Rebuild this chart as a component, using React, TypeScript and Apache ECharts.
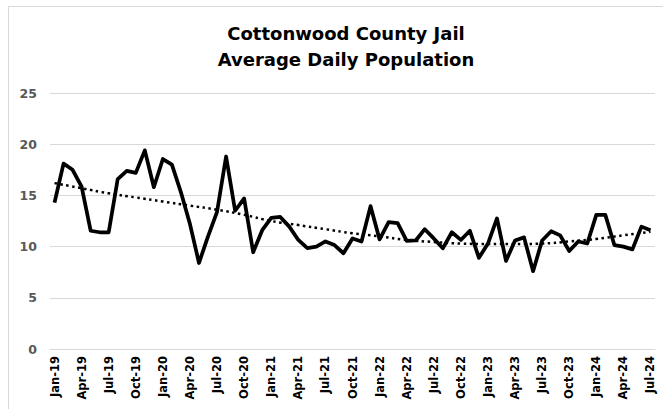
import React, { useEffect, useRef } from "react";
import * as echarts from "echarts";

const months = ["Jan", "Feb", "Mar", "Apr", "May", "Jun", "Jul", "Aug", "Sep", "Oct", "Nov", "Dec"];
const years = ["19", "20", "21", "22", "23", "24"];
const categories: string[] = [];
years.forEach((y) => months.forEach((m) => categories.push(`${m}-${y}`)));
categories.splice(67);

const population = [
  14.3, 18.1, 17.5, 15.85, 11.55, 11.4, 11.4, 16.6, 17.4, 17.2, 19.4, 15.8,
  18.55, 18.0, 15.3, 12.2, 8.4, 11.0, 13.4, 18.8, 13.5, 14.7, 9.45, 11.6,
  12.8, 12.9, 11.95, 10.65, 9.85, 10.0, 10.5, 10.15, 9.35, 10.8, 10.5, 13.95,
  10.7, 12.4, 12.3, 10.55, 10.6, 11.7, 10.8, 9.83, 11.4, 10.65, 11.55, 8.9,
  10.3, 12.75, 8.6, 10.6, 10.9, 7.6, 10.6, 11.5, 11.1, 9.57, 10.5, 10.3,
  13.1, 13.1, 10.15, 10.0, 9.73, 11.95, 11.6,
];

// trendline values at each quarter (Jan, Apr, Jul, Oct)
const trendQuarterly = [
  16.2, 15.7, 15.2, 14.8, 14.4, 14.0, 13.6, 13.1, 12.5, 12.1, 11.7, 11.3,
  11.0, 10.65, 10.45, 10.3, 10.25, 10.25, 10.3, 10.5, 10.75, 11.1, 11.45,
];

const yTicks = [0, 5, 10, 15, 20, 25];

export default function App() {
  const ref = useRef<HTMLDivElement>(null);
  useEffect(() => {
    if (!ref.current) return;
    const chart = echarts.init(ref.current, undefined, { renderer: "svg" });
    const trend: (number | null)[] = categories.map((_, i) =>
      i % 3 === 0 ? trendQuarterly[i / 3] : null
    );
    chart.setOption({
      animation: false,
      backgroundColor: "#ffffff",
      title: {
        text: "Cottonwood County Jail\nAverage Daily Population",
        left: 341,
        textAlign: "center",
        top: 15,
        textStyle: {
          fontFamily: "DejaVu Sans",
          fontWeight: "bold",
          fontSize: 18,
          lineHeight: 26,
          color: "#000000",
        },
      },
      graphic: [
        {
          type: "rect",
          shape: { x: 8.5, y: 6.5, width: 700, height: 450 },
          style: { fill: "none", stroke: "#d9d9d9", lineWidth: 1 },
          silent: true,
        },
      ],
      grid: { left: 50, right: 8, top: 93, bottom: 60, containLabel: false },
      xAxis: {
        type: "category",
        data: categories,
        boundaryGap: true,
        axisLine: { lineStyle: { color: "#d9d9d9", width: 1 } },
        axisTick: { interval: 2, length: 5, lineStyle: { color: "#d9d9d9" } },
        axisLabel: {
          interval: 2,
          rotate: 90,
          margin: 7,
          fontFamily: "DejaVu Sans",
          fontWeight: "bold",
          fontSize: 11.5,
          color: "#000000",
        },
        splitLine: { show: false },
      },
      yAxis: {
        type: "value",
        min: yTicks[0],
        max: yTicks[yTicks.length - 1],
        interval: 5,
        axisLine: { show: false },
        axisTick: { show: false },
        axisLabel: {
          margin: 13,
          fontFamily: "DejaVu Sans",
          fontWeight: "bold",
          fontSize: 12.5,
          color: "#595959",
        },
        splitLine: { lineStyle: { color: "#d9d9d9", width: 1 } },
      },
      series: [
        {
          name: "Average Daily Population",
          type: "line",
          data: population,
          showSymbol: false,
          symbol: "none",
          lineStyle: { color: "#000000", width: 3.75, join: "round" },
          z: 3,
        },
        {
          name: "Trend",
          type: "line",
          data: trend,
          connectNulls: true,
          smooth: true,
          showSymbol: false,
          symbol: "none",
          lineStyle: { color: "#000000", width: 2.5, type: [2.5, 3.5] },
          z: 2,
        },
      ],
    });
    return () => chart.dispose();
  }, []);
  return (
    <div
      ref={ref}
      style={{ position: "fixed", left: 0, top: 0, width: 663, height: 409 }}
    />
  );
}
